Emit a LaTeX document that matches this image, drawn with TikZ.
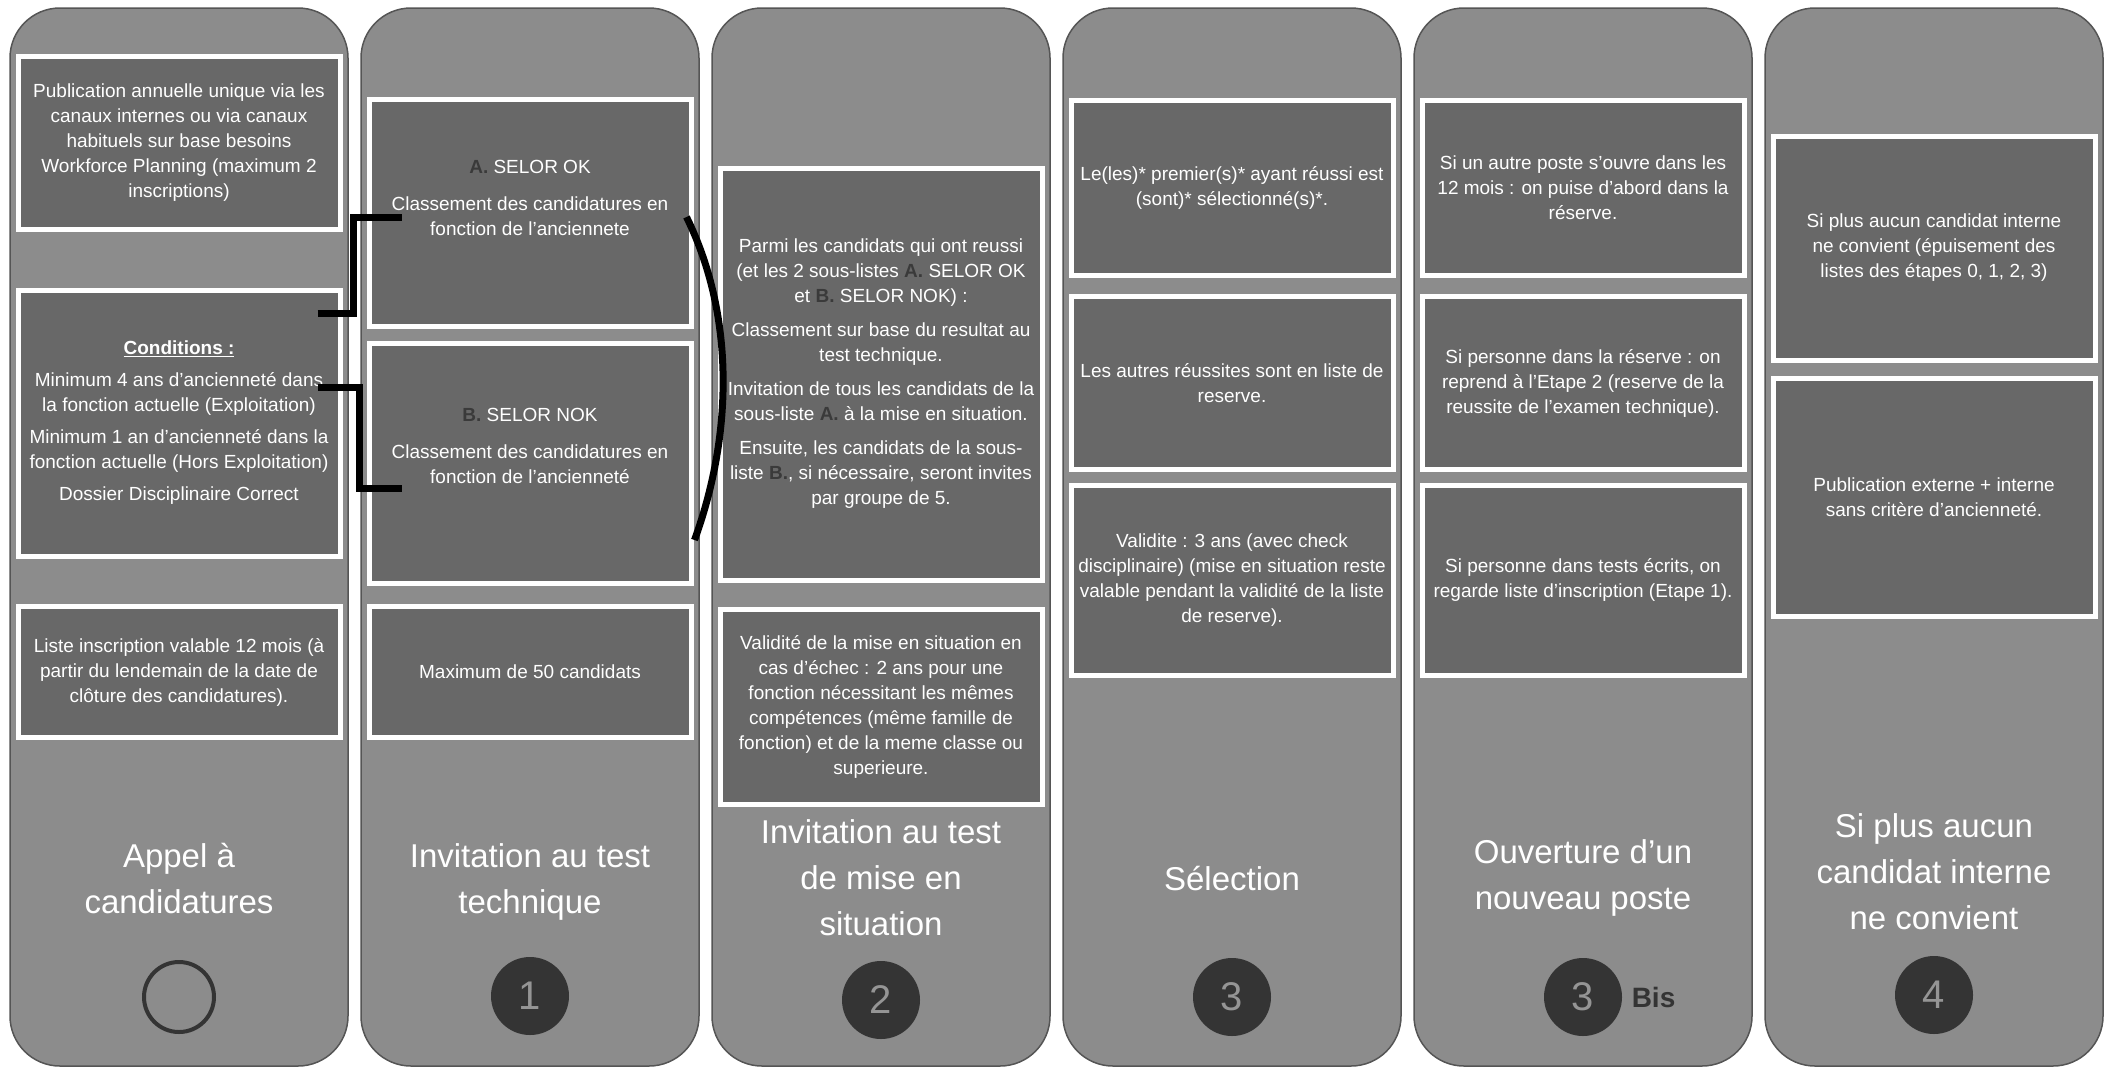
\documentclass[tikz,border=0pt]{standalone}
\usepackage{fontspec}
\setmainfont{Liberation Sans}
\usepackage{xcolor}
\usetikzlibrary{positioning, calc}
\definecolor{colgray}{HTML}{8C8C8C}
\definecolor{colline}{HTML}{555555}
\definecolor{boxgray}{HTML}{686868}
\definecolor{dotdark}{HTML}{343434}
\definecolor{numgray}{HTML}{959595}
\definecolor{markgray}{HTML}{3A3A3A}
\newcommand\selA{\textbf{\textcolor{markgray}{A.}}}
\newcommand\selB{\textbf{\textcolor{markgray}{B.}}}

\begin{document}
\begin{tikzpicture}[
    x=1pt, y=-1pt,
    column/.style={rounded corners=50pt, fill=colgray, draw=colline, line width=1.5pt,
      minimum width=338pt, minimum height=1058pt, inner sep=0pt},
    box/.style={draw=white, line width=5pt, fill=boxgray, text=white, align=center,
      minimum width=322pt, inner sep=0pt, font=\fontsize{19}{25}\selectfont},
    title/.style={text=white, align=center, font=\fontsize{33}{46}\selectfont},
    dot/.style={circle, fill=dotdark, minimum size=78pt, inner sep=0pt, text=numgray,
      font=\fontsize{40}{40}\selectfont},
    brace/.style={draw=black, line width=7pt, line join=miter},
  ]
    \fill[white] (0,0) rectangle (2108,1072);
    \useasboundingbox (0,0) rectangle (2108,1072);

    % columns
    \node[column] (k0) at (179,537) {};
    \node[column] (k1) at (530,537) {};
    \node[column] (k2) at (881,537) {};
    \node[column] (k3) at (1232,537) {};
    \node[column] (k4) at (1583,537) {};
    \node[column] (k5) at (1934,537) {};

    % 0 : appel
    \node[box, minimum height=173pt] (p1a) at (179,143) {Publication annuelle unique via les\\canaux internes ou via canaux\\habituels sur base besoins\\Workforce Planning (maximum 2\\inscriptions)};
    \node[box, minimum height=266pt] (p1b) at (179,423) {\underline{\textbf{Conditions :}}\\[7pt]Minimum 4 ans d'ancienneté dans\\la fonction actuelle (Exploitation)\\[7pt]Minimum 1 an d'ancienneté dans la\\fonction actuelle (Hors Exploitation)\\[7pt]Dossier Disciplinaire Correct};
    \node[box, minimum height=131pt] (p1c) at (179,672) {Liste inscription valable 12 mois (à\\partir du lendemain de la date de\\clôture des candidatures).};
    \node[title] (t0) at (179,878) {Appel à\\candidatures};
    \node[circle, draw=dotdark, line width=4pt, minimum size=70pt] (s0) at (179,997) {};

    % 1 : test technique
    \node[box, minimum height=227pt] (p2a) at (530,213) {\selA{} SELOR OK\\[12pt]Classement des candidatures en\\fonction de l'anciennete\\[6pt]};
    \node[box, minimum height=240pt] (p2b) at (530,463) {\selB{} SELOR NOK\\[12pt]Classement des candidatures en\\fonction de l'ancienneté\\[10pt]};
    \node[box, minimum height=131pt] (p2c) at (530,672) {Maximum de 50 candidats};
    \node[title] (t1) at (530,882) {Invitation au test\\technique};
    \node[dot] (s1) at (530,996) {1};

    % 2 : mise en situation
    \node[box, minimum height=412pt] (p3a) at (881,374) {Parmi les candidats qui ont reussi\\(et les 2 sous-listes \selA{} SELOR OK\\et \selB{} SELOR NOK) :\\[9pt]Classement sur base du resultat au\\test technique.\\[9pt]Invitation de tous les candidats de la\\sous-liste \selA{} à la mise en situation.\\[9pt]Ensuite, les candidats de la sous-\\liste \selB{}, si nécessaire, seront invites\\par groupe de 5.};
    \node[box, minimum height=195pt] (p3b) at (881,707) {Validité de la mise en situation en\\cas d'échec : 2 ans pour une\\fonction nécessitant les mêmes\\compétences (même famille de\\fonction) et de la meme classe ou\\superieure.};
    \node[title] (t2) at (881,878) {Invitation au test\\de mise en\\situation};
    \node[dot] (s2) at (881,1000) {2};

    % 3 : selection
    \node[box, minimum height=175pt] (p4a) at (1232,188) {Le(les)* premier(s)* ayant réussi est\\(sont)* sélectionné(s)*.};
    \node[box, minimum height=173pt] (p4b) at (1232,383) {Les autres réussites sont en liste de\\reserve.};
    \node[box, minimum height=190pt] (p4c) at (1232,580) {Validite : 3 ans (avec check\\disciplinaire) (mise en situation reste\\valable pendant la validité de la liste\\de reserve).};
    \node[title] (t3) at (1232,878) {Sélection};
    \node[dot] (s3) at (1232,997) {3};

    % 3 bis : nouveau poste
    \node[box, minimum height=175pt] (p5a) at (1583,188) {Si un autre poste s'ouvre dans les\\12 mois : on puise d'abord dans la\\réserve.};
    \node[box, minimum height=173pt] (p5b) at (1583,383) {Si personne dans la réserve :  on\\reprend à l’Etape 2 (reserve de la\\reussite de l'examen technique).};
    \node[box, minimum height=190pt] (p5c) at (1583,580) {Si personne dans tests écrits, on\\regarde liste d'inscription (Etape 1).};
    \node[title] (t4) at (1583,878) {Ouverture d’un\\nouveau poste};
    \node[dot] (s4) at (1583,997) {3};
    \node[right=6pt of s4, text=dotdark, font=\fontsize{28}{28}\selectfont\bfseries] (bis) {Bis};

    % 4 : externe
    \node[box, minimum height=224pt] (p6a) at (1934,248) {Si plus aucun candidat interne\\ne convient (épuisement des\\listes des étapes 0, 1, 2, 3)};
    \node[box, minimum height=238pt] (p6b) at (1934,497) {Publication externe  + interne\\sans critère d'ancienneté.};
    \node[title] (t5) at (1934,872) {Si plus aucun\\candidat interne\\ne convient};
    \node[dot] (s5) at (1934,995) {4};

    % liens
    \draw[brace] ([xshift=-25pt,yshift=110pt]p1b.east) -| ([xshift=-13pt,yshift=-4pt]p2a.west) -- ([xshift=35pt,yshift=-4pt]p2a.west);
    \draw[brace] ([xshift=-25pt,yshift=36pt]p1b.east) -| ([xshift=-7pt,yshift=-25pt]p2b.west) -- ([xshift=35pt,yshift=-25pt]p2b.west);
    \draw[brace] ([xshift=-7pt,yshift=-4pt]p2a.east) .. controls (737,320) and (731,440) .. ([xshift=-23pt,yshift=-166pt]p3a.west);
\end{tikzpicture}
\end{document}
